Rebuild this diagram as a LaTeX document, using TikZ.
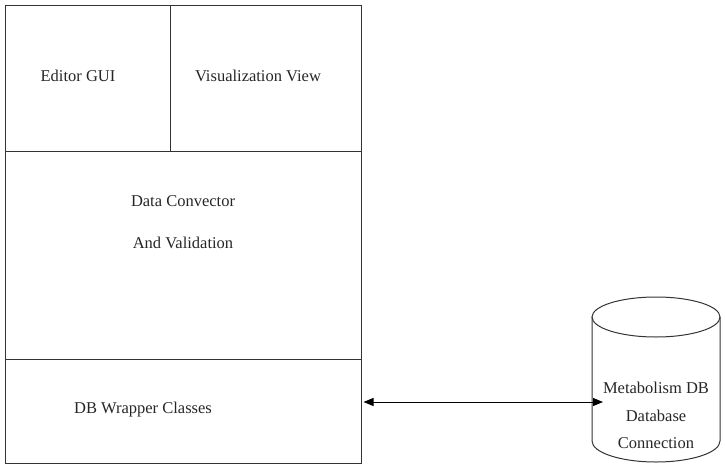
\documentclass[tikz,border=0pt]{standalone}
\usepackage{fontspec}
\setmainfont{Liberation Serif}
\usetikzlibrary{arrows.meta}
\begin{document}
\begin{tikzpicture}[x=1pt,y=-1pt,
  frame/.style={draw=black!80, line width=1pt},
  lbl/.style={font=\fontsize{16.5}{19}\selectfont, inner sep=0pt, text=black!85},
  link/.style={draw=black, line width=1pt, {Triangle[length=10pt,width=8pt]}-{Triangle[length=10pt,width=8pt]}}]
\useasboundingbox (0,0) rectangle (725,468);
% left stack
\node[frame, anchor=north west, minimum width=165pt, minimum height=146pt, inner sep=0pt] (editorbox) at (5,5) {};
\node[frame, anchor=north west, minimum width=191pt, minimum height=146pt, inner sep=0pt] (vizbox) at (170,5) {};
\node[frame, anchor=north west, minimum width=356pt, minimum height=208pt, inner sep=0pt] (convbox) at (5,151) {};
\node[frame, anchor=north west, minimum width=356pt, minimum height=104pt, inner sep=0pt] (wrapbox) at (5,359) {};
\node[lbl] (editor) at (78,76) {Editor GUI};
\node[lbl] (viz) at (258,76) {Visualization View};
\node[lbl] (conv1) at (183,201) {Data Convector};
\node[lbl] (conv2) at (183,243) {And Validation};
\node[lbl] (wrap) at (143,410) {DB Wrapper Classes};
% database cylinder
\draw[frame] (592,317) -- (592,441) arc[start angle=180, end angle=0, x radius=64, y radius=21] -- (720,317);
\draw[frame] (656,317) ellipse[x radius=64, y radius=20];
\node[lbl] (db1) at (656,388) {Metabolism DB};
\node[lbl] (db2) at (656,416) {Database};
\node[lbl] (db3) at (656,443) {Connection};
\coordinate (wrapR) at (wrapbox.east |- 0,402);
\coordinate (dbL) at (603,402);
\draw[link] (wrapR) ++(1.5,0) -- (dbL);
\end{tikzpicture}
\end{document}
